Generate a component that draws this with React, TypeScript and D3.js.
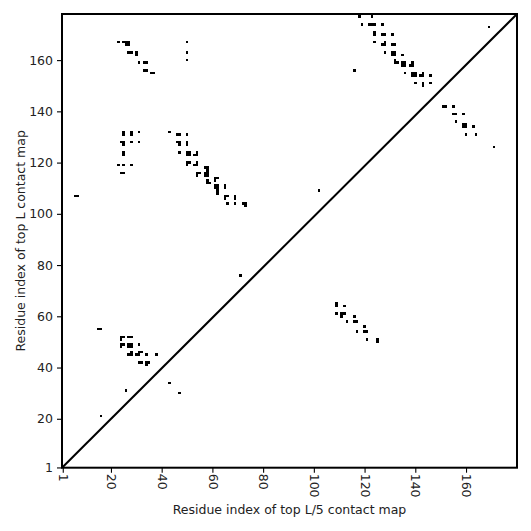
import React, { useEffect, useRef } from "react";
import * as d3 from "d3";

// contacts above the diagonal (top L), drawn as [x, y]
const topLContacts: Array<[number, number]> = [
  [23, 167], [25, 167], [26, 167], [27, 167], [26, 166], [27, 166],
  [27, 163], [28, 163], [30, 163], [30, 162],
  [31, 159], [33, 159], [34, 159],
  [33, 156], [34, 156], [36, 155], [37, 155],
  [50, 167], [50, 163], [50, 160],
  [25, 132], [25, 131], [28, 132], [28, 131], [31, 132], [43, 132], [46, 131], [47, 131], [50, 131],
  [24, 128], [25, 128], [25, 127], [28, 128], [31, 128], [46, 128], [47, 128], [47, 127], [50, 128], [50, 127],
  [25, 124], [25, 123], [47, 124], [50, 124], [51, 124], [50, 123], [51, 123], [54, 124], [53, 123], [54, 123],
  [23, 119], [25, 119], [28, 119],
  [50, 120], [51, 120], [50, 119], [54, 120], [53, 119], [54, 119],
  [57, 118], [58, 118], [58, 117],
  [24, 116], [25, 116],
  [54, 116], [55, 116], [54, 115],
  [57, 116], [58, 116], [57, 115], [58, 115],
  [61, 114], [62, 114], [61, 113],
  [58, 113], [58, 112], [59, 112],
  [61, 111], [62, 111], [61, 110], [62, 110],
  [65, 111], [65, 110],
  [62, 109], [62, 108],
  [65, 107], [66, 107], [65, 106],
  [69, 107], [69, 106],
  [66, 104], [69, 104], [72, 104], [73, 104], [73, 103],
  [118, 177], [123, 177],
  [119, 174], [122, 174], [123, 174], [124, 174], [127, 174],
  [124, 171], [124, 170], [127, 170], [128, 170], [131, 170],
  [124, 167], [128, 167], [127, 166], [128, 166], [131, 166], [132, 166],
  [128, 163], [131, 163], [132, 163], [131, 162], [132, 162], [135, 162],
  [132, 160], [132, 159], [133, 159],
  [135, 159], [136, 159], [135, 158], [136, 158],
  [139, 159], [138, 158], [139, 158],
  [136, 155], [139, 155], [140, 155], [139, 154], [140, 154],
  [143, 155], [142, 154], [143, 154], [146, 154],
  [140, 151], [143, 151], [143, 150], [146, 151],
  [116, 156], [169, 173],
  [6, 107], [7, 107], [71, 76], [102, 109],
  [15, 55], [16, 55],
  [24, 52], [25, 52], [24, 51], [27, 52], [28, 52],
  [24, 49], [25, 49], [24, 48], [27, 49], [28, 49], [27, 48], [28, 48], [31, 49],
  [28, 46], [27, 45], [28, 45], [31, 46], [32, 46], [30, 45], [31, 45], [34, 45], [38, 45],
  [31, 42], [32, 42], [34, 42], [35, 42], [34, 41],
  [43, 34], [47, 30], [26, 31], [16, 21],
];

// contacts below the diagonal (top L/5), drawn as [x, y]
const topL5Contacts: Array<[number, number]> = [
  [109, 65], [109, 64], [112, 64],
  [109, 61], [111, 61], [112, 61], [111, 60], [116, 60],
  [113, 58], [116, 58], [117, 58], [120, 56],
  [117, 54], [120, 54], [121, 54],
  [121, 51], [125, 51], [125, 50],
  [151, 142], [152, 142], [155, 142],
  [155, 139], [156, 139], [159, 139],
  [156, 136], [159, 135], [160, 135], [159, 134], [160, 134], [163, 134],
  [160, 131], [164, 131],
  [171, 126],
];

const tickValues = [1, 20, 40, 60, 80, 100, 120, 140, 160];
const xDomain: [number, number] = [0.7, 180.1];
const yDomain: [number, number] = [0.9, 178];

export default function App() {
  const svgRef = useRef<SVGSVGElement>(null);
  const width = 531;
  const height = 531;

  useEffect(() => {
    if (!svgRef.current) return;
    const svg = d3.select(svgRef.current);
    svg.selectAll("*").remove();

    const left = 62;
    const right = 517;
    const top = 14;
    const bottom = 467.7;
    const font = "DejaVu Sans, sans-serif";

    const x = d3.scaleLinear().domain(xDomain).range([left, right]);
    const y = d3.scaleLinear().domain(yDomain).range([bottom, top]);

    svg.append("rect").attr("width", width).attr("height", height).attr("fill", "#fff");

    const cells = [...topLContacts, ...topL5Contacts];
    svg
      .append("g")
      .selectAll("rect")
      .data(cells)
      .enter()
      .append("rect")
      .attr("x", (d) => x(d[0] - 0.5))
      .attr("y", (d) => y(d[1] + 0.5))
      .attr("width", (d) => x(d[0] + 0.5) - x(d[0] - 0.5))
      .attr("height", (d) => y(d[1] - 0.5) - y(d[1] + 0.5))
      .attr("fill", "#000")
      .attr("shape-rendering", "crispEdges");

    // diagonal
    svg
      .append("line")
      .attr("x1", x(xDomain[0]))
      .attr("y1", y(yDomain[0]))
      .attr("x2", x(xDomain[1]))
      .attr("y2", y(yDomain[1]))
      .attr("stroke", "#000")
      .attr("stroke-width", 2);

    const gx = svg
      .append("g")
      .attr("transform", `translate(0,${bottom})`)
      .call(d3.axisBottom(x).tickValues(tickValues).tickSize(5).tickPadding(6).tickFormat(d3.format("d")));
    gx.select(".domain").remove();
    gx.selectAll(".tick line").attr("stroke", "#000").attr("stroke-width", 1.1);
    gx.selectAll(".tick text")
      .attr("transform", "translate(0,6) rotate(90)")
      .attr("x", 0)
      .attr("y", 0)
      .attr("dy", "0.35em")
      .attr("text-anchor", "start")
      .style("font-family", font)
      .style("font-size", "12.5px")
      .style("fill", "#222");

    const gy = svg
      .append("g")
      .attr("transform", `translate(${left},0)`)
      .call(d3.axisLeft(y).tickValues(tickValues).tickSize(5).tickPadding(4).tickFormat(d3.format("d")));
    gy.select(".domain").remove();
    gy.selectAll(".tick line").attr("stroke", "#000").attr("stroke-width", 1.1);
    gy.selectAll(".tick text")
      .style("font-family", font)
      .style("font-size", "12.5px")
      .style("fill", "#222");

    // frame
    svg
      .append("rect")
      .attr("x", left)
      .attr("y", top)
      .attr("width", right - left)
      .attr("height", bottom - top)
      .attr("fill", "none")
      .attr("stroke", "#000")
      .attr("stroke-width", 2);

    svg
      .append("text")
      .attr("x", (left + right) / 2)
      .attr("y", 513.5)
      .attr("text-anchor", "middle")
      .style("font-family", font)
      .style("font-size", "12.5px")
      .style("fill", "#222")
      .text("Residue index of top L/5 contact map");

    svg
      .append("text")
      .attr("transform", `translate(25,${(top + bottom) / 2}) rotate(-90)`)
      .attr("text-anchor", "middle")
      .style("font-family", font)
      .style("font-size", "12.5px")
      .style("fill", "#222")
      .text("Residue index of top L contact map");
  }, []);

  return (
    <svg
      ref={svgRef}
      width={width}
      height={height}
      style={{ position: "absolute", left: 0, top: 0 }}
    />
  );
}
